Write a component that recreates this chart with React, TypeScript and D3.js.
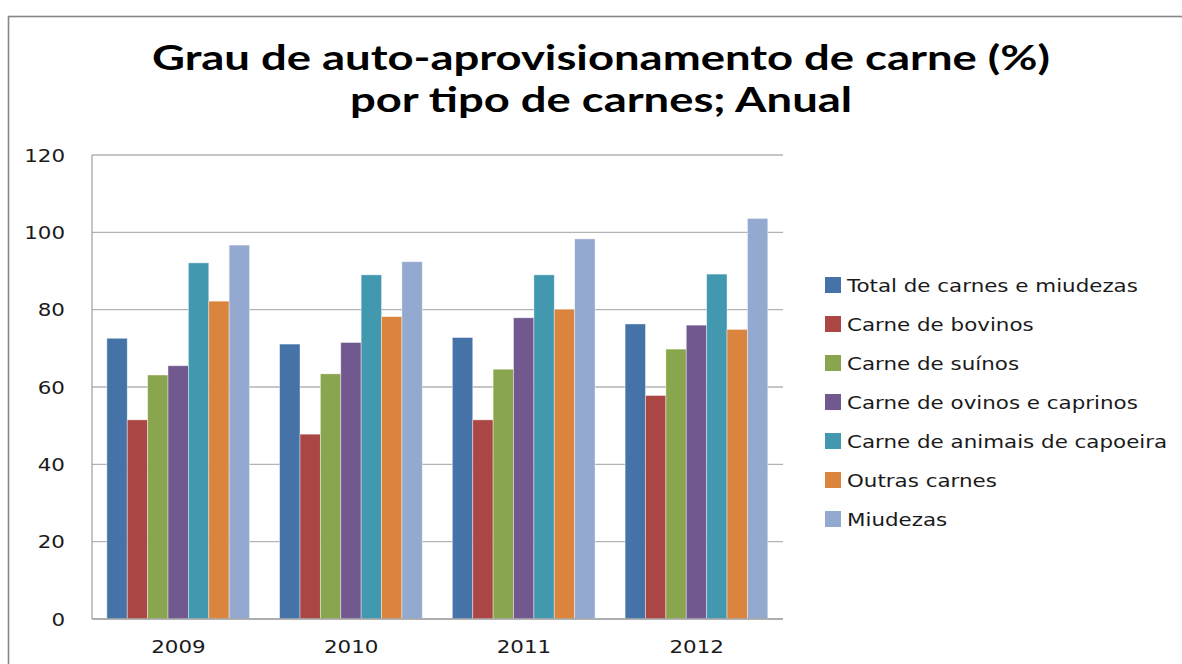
import React, { useEffect } from "react";
import * as d3 from "d3";

const years = ["2009", "2010", "2011", "2012"];
const seriesNames = [
  "Total de carnes e miudezas",
  "Carne de bovinos",
  "Carne de suínos",
  "Carne de ovinos e caprinos",
  "Carne de animais de capoeira",
  "Outras carnes",
  "Miudezas",
];
const total = [72.6, 71.1, 72.8, 76.3];
const bovinos = [51.5, 47.8, 51.5, 57.8];
const suinos = [63.1, 63.4, 64.6, 69.8];
const ovinos = [65.5, 71.5, 77.9, 76.0];
const capoeira = [92.1, 89.0, 89.0, 89.2];
const outras = [82.2, 78.2, 80.1, 74.9];
const miudezas = [96.7, 92.4, 98.3, 103.6];
const seriesValues = [total, bovinos, suinos, ovinos, capoeira, outras, miudezas];
const colors = ["#4572A7", "#AA4643", "#89A54E", "#71588F", "#4198AF", "#DB843D", "#93A9CF"];
const yTicks = [0, 20, 40, 60, 80, 100, 120];
const titleLines = ["Grau de auto-aprovisionamento de carne (%)", "por tipo de carnes; Anual"];

export default function App() {
  useEffect(() => {
    document.body.style.margin = "0";
  }, []);
  const W = 1182, H = 664;
  const left = 92, right = 783, top = 155, bottom = 619;
  const y = d3.scaleLinear().domain([0, 120]).range([bottom, top]);
  const x0 = d3.scaleBand<string>().domain(years).range([left, right]).padding(0);
  const step = x0.bandwidth();
  const x1 = d3
    .scaleBand<number>()
    .domain(d3.range(seriesNames.length))
    .range([step * 0.086, step * 0.912])
    .padding(0);
  const font = "'DejaVu Sans', sans-serif";
  const sx = 1.17;
  const fs = 18.3;
  const tx = (x: number, yy: number) => `translate(${x},${yy}) scale(${sx},1)`;
  return (
    <svg width={W} height={H} style={{ position: "absolute", left: 0, top: 0, background: "#fff" }}>
      <rect x={8.5} y={16.5} width={W + 20} height={H + 20} fill="none" stroke="#868686" strokeWidth={1.6} />
      <text x={601} y={70} textAnchor="middle" fontFamily="Lato, sans-serif" fontWeight="bold" fontSize={34}
        textLength={898} lengthAdjust="spacingAndGlyphs" fill="#000">{titleLines[0]}</text>
      <text x={601} y={112} textAnchor="middle" fontFamily="Lato, sans-serif" fontWeight="bold" fontSize={34}
        textLength={502} lengthAdjust="spacingAndGlyphs" fill="#000">{titleLines[1]}</text>
      {yTicks.map((t) => (
        <g key={t}>
          <line x1={left} x2={right} y1={y(t)} y2={y(t)} stroke="#b3b3b3" strokeWidth={1.3} />
          <text transform={tx(65, y(t))} dy="0.36em" textAnchor="end" fontFamily={font} fontSize={fs} fill="#1a1a1a">{t}</text>
        </g>
      ))}
      <line x1={left} x2={left} y1={top} y2={bottom} stroke="#a6a6a6" strokeWidth={1.3} />
      {years.map((yr, i) => (
        <g key={yr}>
          {seriesValues.map((vals, s) => (
            <rect key={s} x={(x0(yr) as number) + (x1(s) as number)} y={y(vals[i])}
              width={x1.bandwidth()} height={bottom - y(vals[i])} fill={colors[s]}
              stroke="#ffffff" strokeOpacity={0.5} strokeWidth={0.8} />
          ))}
          <text transform={tx((x0(yr) as number) + step / 2, 653)} textAnchor="middle" fontFamily={font} fontSize={fs} fill="#1a1a1a">{yr}</text>
        </g>
      ))}
      <line x1={left} x2={right} y1={bottom} y2={bottom} stroke="#a6a6a6" strokeWidth={1.3} />
      {seriesNames.map((n, s) => {
        const cy = 285 + s * 39;
        return (
          <g key={n}>
            <rect x={825} y={cy - 8} width={16} height={16} fill={colors[s]} />
            <text transform={tx(847, cy)} dy="0.36em" fontFamily={font} fontSize={fs} fill="#1a1a1a">{n}</text>
          </g>
        );
      })}
    </svg>
  );
}
